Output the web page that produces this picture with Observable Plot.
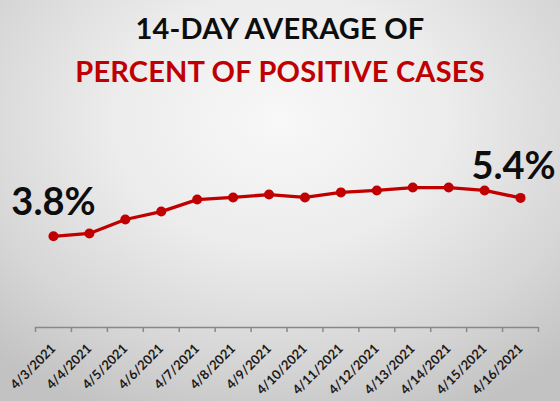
<!DOCTYPE html>
<html><head><meta charset="utf-8">
<script src="https://cdn.jsdelivr.net/npm/d3@7"></script>
<script src="https://cdn.jsdelivr.net/npm/@observablehq/plot@0.6"></script>
<style>
html,body{margin:0;padding:0;}
#chart{width:560px;height:401px;position:relative;overflow:hidden;
  background:radial-gradient(ellipse 75% 80% at 50% 30%, #f8f8f8 0%, #ececec 40%, #d6d6d6 75%, #c2c2c2 100%);
  font-family:Lato, sans-serif;}
#titles{height:90px;}
.t{font-weight:bold;font-size:29px;line-height:35px;text-align:center;white-space:nowrap;letter-spacing:0.2px;}
svg{display:block;}
</style></head><body>
<div id="chart">
  <div id="titles">
    <div class="t" style="padding-top:10px;color:#0d0d0d">14-DAY AVERAGE OF</div>
    <div class="t" style="margin-top:8px;color:#c00000">PERCENT OF POSITIVE CASES</div>
  </div>
</div>
<script>
const dates = ["4/3/2021","4/4/2021","4/5/2021","4/6/2021","4/7/2021","4/8/2021","4/9/2021","4/10/2021","4/11/2021","4/12/2021","4/13/2021","4/14/2021","4/15/2021","4/16/2021"];
const values = [3.80, 3.92, 4.50, 4.83, 5.33, 5.42, 5.54, 5.42, 5.63, 5.71, 5.83, 5.83, 5.71, 5.40];
const calloutIndex = [0, 13];
const calloutLabels = ["3.8%", "5.4%"];

const data = dates.map((d, i) => ({i, date: d, value: values[i]}));
const callouts = calloutIndex.map((k, j) => ({i: k, value: values[k], label: calloutLabels[j]}));

const textStyle = {x: d => d.i + 0.5, y: "value", text: "label", lineAnchor: "middle",
  fontSize: 38, fontWeight: "bold", fill: "#0d0d0d"};

const plot = Plot.plot({
  width: 560, height: 311,
  marginLeft: 35, marginRight: 22, marginTop: 81, marginBottom: 74,
  style: {background: "transparent", fontFamily: "Lato, sans-serif", overflow: "visible"},
  x: {domain: [0, dates.length], axis: null},
  y: {domain: [0, 6.5], axis: null},
  marks: [
    Plot.ruleY([0], {stroke: "#888", strokeWidth: 1.5}),
    Plot.axisX(d3.range(dates.length + 1), {tickSize: 5, tickFormat: () => "", stroke: "#888", strokeWidth: 1.5}),
    Plot.axisX(data.map(d => d.i + 0.5), {
      tickSize: 0, tickPadding: 19, tickRotate: -45,
      tickFormat: v => dates[Math.floor(v)],
      fontSize: 13, fontWeight: "bold", fill: "#1a1a1a"
    }),
    Plot.line(data, {x: d => d.i + 0.5, y: "value", stroke: "#c00000", strokeWidth: 3.3}),
    Plot.dot(data, {x: d => d.i + 0.5, y: "value", r: 5, fill: "#c00000"}),
    Plot.text(callouts, {...textStyle, filter: d => d.i === calloutIndex[0], dy: -33}),
    Plot.text(callouts, {...textStyle, filter: d => d.i === calloutIndex[1], dx: -7, dy: -31})
  ]
});
document.getElementById("chart").appendChild(plot);
</script>
</body></html>
